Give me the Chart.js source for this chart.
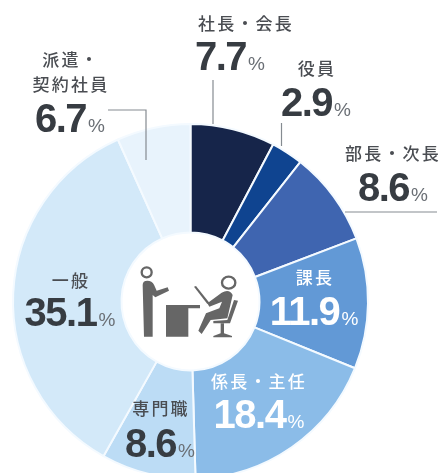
<!DOCTYPE html>
<html lang="ja">
<head>
<meta charset="utf-8">
<script src="https://cdn.jsdelivr.net/npm/chart.js@4"></script>
<style>
html, body { margin: 0; padding: 0; background: #fff; overflow: hidden; }
#wrap { position: relative; width: 440px; height: 473px; overflow: hidden; filter: blur(0.5px); }
canvas { position: absolute; left: 0; top: 0; }
.lbl { position: absolute; transform: translateX(-50%); white-space: nowrap; text-align: center; color: #4a4d52;
       font-family: "Noto Sans CJK JP", sans-serif; font-weight: 500; font-size: 17px; letter-spacing: 2.2px; line-height: 25px; }
.val { position: absolute; transform: translateX(-50%); white-space: nowrap; color: #373c42;
       font-family: "Liberation Sans", sans-serif; font-weight: bold; font-size: 40px; letter-spacing: -1.5px; line-height: 40px; }
.val span { font-size: 19px; font-weight: normal; letter-spacing: 0; color: #6a6f75; margin-left: 2px; }
.white, .white span { color: #fff; }
#icon { position: absolute; left: 120px; top: 240px; width: 140px; height: 120px; }
</style>
</head>
<body>
<div id="wrap">
  <canvas id="myChart" width="440" height="510"></canvas>
  <svg id="icon" viewBox="0 0 420 360">
    <g fill="#666">
      <circle cx="80" cy="97" r="15" fill="none" stroke="#666" stroke-width="7"/>
      <path d="M68 135 Q68 122 82 122 Q96 122 102 134 L110 152 L143 142 L147 152 L106 172 L98 165 L98 290 L72 290 Z"/>
      <path d="M138 195 H240 V205 H205 V290 H138 Z"/>
      <ellipse cx="326" cy="128" rx="20" ry="18" fill="none" stroke="#666" stroke-width="7"/>
      <path d="M222 140 L228 138 L268 188 L262 192 Z"/>
      <path d="M305 158 Q328 145 338 165 L322 235 L272 240 L245 282 L235 272 L258 220 L298 205 L306 185 L268 200 L262 190 Z"/>
      <path d="M342 180 L354 182 L330 250 L280 250 L280 243 L322 240 Z"/>
      <path d="M302 250 H312 V280 L336 288 V292 H280 V288 L302 280 Z"/>
    </g>
  </svg>
</div>
<script>
// dati
var categories = ['社長・会長', '役員', '部長・次長', '課長', '係長・主任', '専門職', '一般', '派遣・契約社員'];
var values = [7.7, 2.9, 8.6, 11.9, 18.4, 8.6, 35.1, 6.7];
var colors = ['#16254a', '#0f4490', '#3f65b0', '#6299d6', '#8bbce8', '#bcdcf5', '#d3e9f9', '#e8f3fc'];

// posizione delle etichette: nome [x, y], valore [x, y]
var nameLines = [['社長・会長'], ['役員'], ['部長・次長'], ['課長'], ['係長・主任'], ['専門職'], ['一般'], ['派遣・', '契約社員']];
var namePos = [[246, 10], [317, 55], [393, 140], [315, 264], [259, 368], [161, 395], [71, 267], [71, 46]];
var valuePos = [[230, 36], [316, 82], [393, 167], [314, 291], [259, 394], [160, 423], [70, 292], [70, 98]];
var whiteLabels = [3, 4];

var wrap = document.getElementById('wrap');
for (var i = 0; i < categories.length; i++) {
    var n = document.createElement('div');
    n.className = 'lbl';
    if (whiteLabels.indexOf(i) >= 0) n.className += ' white';
    n.style.left = namePos[i][0] + 'px';
    n.style.top = namePos[i][1] + 'px';
    n.innerHTML = nameLines[i].join('<br>');
    wrap.appendChild(n);

    var v = document.createElement('div');
    v.className = 'val';
    if (whiteLabels.indexOf(i) >= 0) v.className += ' white';
    v.style.left = valuePos[i][0] + 'px';
    v.style.top = valuePos[i][1] + 'px';
    v.innerHTML = values[i].toFixed(1) + '<span>%</span>';
    wrap.appendChild(v);
}

// linee guida delle etichette
var leaders = [
    [[213, 80], [213, 124]],
    [[281.5, 123], [281.5, 146]],
    [[345, 212], [437, 212]],
    [[108, 110], [146, 110], [146, 160]]
];
var leaderPlugin = {
    id: 'leaders',
    afterDraw: function(chart) {
        var c = chart.ctx;
        c.save();
        c.strokeStyle = '#858b91';
        c.lineWidth = 1.2;
        for (var i = 0; i < leaders.length; i++) {
            c.beginPath();
            for (var j = 0; j < leaders[i].length; j++) {
                if (j == 0) c.moveTo(leaders[i][j][0], leaders[i][j][1]);
                else c.lineTo(leaders[i][j][0], leaders[i][j][1]);
            }
            c.stroke();
        }
        c.restore();
    }
};

var ctx = document.getElementById('myChart').getContext('2d');
var myChart = new Chart(ctx, {
    type: 'doughnut',
    data: {
        labels: categories,
        datasets: [{
            data: values,
            backgroundColor: colors,
            borderColor: '#f4faff',
            borderWidth: 2
        }]
    },
    options: {
        responsive: false,
        animation: false,
        cutout: 69,
        layout: { padding: { left: 12, right: 71, top: 123, bottom: 30 } },
        plugins: { legend: { display: false }, tooltip: { enabled: false } }
    },
    plugins: [leaderPlugin]
});
</script>
</body>
</html>
